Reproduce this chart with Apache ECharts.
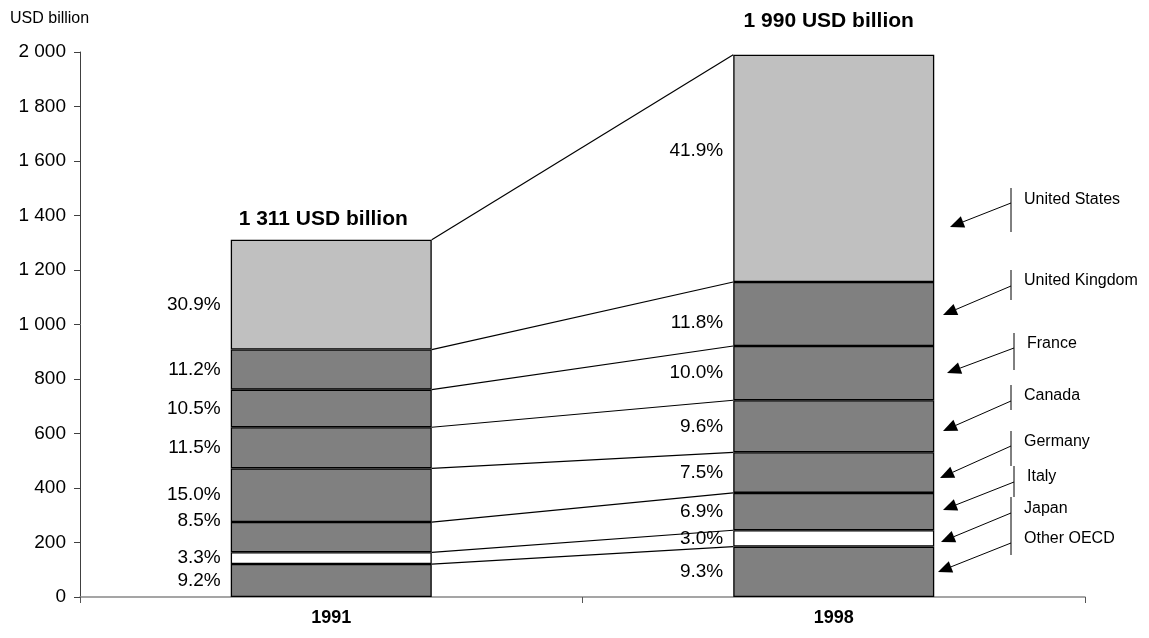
<!DOCTYPE html>
<html>
<head>
<meta charset="utf-8">
<script src="https://cdn.jsdelivr.net/npm/echarts@6/dist/echarts.min.js"></script>
<style>html,body{margin:0;padding:0;background:#fff;}#c{width:1149px;height:638px;}</style>
</head>
<body>
<div id="c"></div>
<script>
// ---- data ----
const categories = ['1991', '1998'];
const countries = ['Other OECD', 'Japan', 'Italy', 'Germany', 'Canada', 'France', 'United Kingdom', 'United States'];
const values1991 = [121, 43, 111, 197, 151, 138, 147, 403];
const values1998 = [185, 60, 137, 149, 191, 199, 235, 834];
const pct1991 = ['9.2%', '3.3%', '8.5%', '15.0%', '11.5%', '10.5%', '11.2%', '30.9%'];
const pct1998 = ['9.3%', '3.0%', '6.9%', '7.5%', '9.6%', '10.0%', '11.8%', '41.9%'];
const totals = [1311, 1990];
const unitLabel = 'USD billion';

// ---- styles / layout ----
const FONT = 'Liberation Sans, Arial, Helvetica, sans-serif';
const fillColors = {'Japan': '#ffffff', 'United States': '#c0c0c0'};
const defaultFill = '#808080';
const labelShift = [
  {'United States': 10, 'Italy': -16},
  {'United States': -18, 'United Kingdom': 9}
];
const totalLabelLayout = [{dy: 10, dx: -8}, {dy: 23, dx: -5}];
// callout annotation layout (pixels)
const callouts = [
  {name: 'United States', lx: 1011, top: 188, bottom: 232, ly: 200, sy: 203, tx: 950, ty: 227},
  {name: 'United Kingdom', lx: 1011, top: 270, bottom: 300, ly: 281, sy: 286, tx: 943, ty: 315},
  {name: 'France', lx: 1014, top: 333, bottom: 370, ly: 344, sy: 348, tx: 947, ty: 373},
  {name: 'Canada', lx: 1011, top: 385, bottom: 410, ly: 396, sy: 401, tx: 943, ty: 431},
  {name: 'Germany', lx: 1011, top: 431, bottom: 466, ly: 442, sy: 446, tx: 940, ty: 478},
  {name: 'Italy', lx: 1014, top: 466, bottom: 497, ly: 477, sy: 482, tx: 943, ty: 510},
  {name: 'Japan', lx: 1011, top: 497, bottom: 528, ly: 509, sy: 513, tx: 941, ty: 542},
  {name: 'Other OECD', lx: 1011, top: 528, bottom: 555, ly: 539, sy: 543, tx: 938, ty: 572}
];

const fmt = n => String(n).replace(/\B(?=(\d{3})+(?!\d))/g, ' ');

const pcts = [pct1991, pct1998];
const vals = [values1991, values1998];

const barSeries = countries.map((c, i) => ({
  type: 'bar',
  name: c,
  stack: 'total',
  barWidth: '40%',
  itemStyle: {color: fillColors[c] || defaultFill, borderColor: '#000', borderWidth: 1.3},
  label: {
    show: true, position: 'left', distance: 10,
    fontFamily: FONT, fontSize: 19, color: '#000',
    formatter: p => pcts[p.dataIndex][i]
  },
  data: vals.map((v, k) => ({value: v[i], label: {offset: [0, labelShift[k][c] || 0]}}))
}));

// cumulative tops for connecting lines
const cum = vals.map(v => { let s = 0; return v.map(x => (s += x)); });
const lineData = countries.map((c, i) => [0, cum[0][i], cum[1][i]]);

const lineSeries = {
  type: 'custom',
  name: 'connectors',
  data: lineData,
  z: 5,
  renderItem: (params, api) => {
    const p0 = api.coord([0, api.value(1)]);
    const p1 = api.coord([1, api.value(2)]);
    const half = api.size([1, 0])[0] * 0.2;
    return {
      type: 'line',
      shape: {x1: p0[0] + half, y1: p0[1], x2: p1[0] - half, y2: p1[1]},
      style: {stroke: '#000', lineWidth: 1.2}
    };
  }
};

const totalSeries = {
  type: 'custom',
  name: 'totals',
  data: totals.map((t, k) => [k, t]),
  z: 6,
  renderItem: (params, api) => {
    const k = params.dataIndex;
    const p = api.coord([api.value(0), api.value(1)]);
    return {
      type: 'text',
      x: p[0] + totalLabelLayout[k].dx,
      y: p[1] - totalLabelLayout[k].dy,
      style: {
        text: fmt(totals[k]) + ' ' + unitLabel,
        font: 'bold 21px ' + FONT,
        fill: '#000',
        align: 'center', verticalAlign: 'bottom'
      }
    };
  }
};

// callout graphics
const graphics = [];
callouts.forEach(o => {
  graphics.push({type: 'line', shape: {x1: o.lx, y1: o.top, x2: o.lx, y2: o.bottom}, style: {stroke: '#000', lineWidth: 1}});
  const dx = o.tx - o.lx, dy = o.ty - o.sy, L = Math.hypot(dx, dy);
  const ux = dx / L, uy = dy / L, px = -uy, py = ux;
  const hl = 14, hw = 6;
  const bx = o.tx - ux * hl, by = o.ty - uy * hl;
  graphics.push({type: 'line', shape: {x1: o.lx, y1: o.sy, x2: bx, y2: by}, style: {stroke: '#000', lineWidth: 1}});
  graphics.push({type: 'polygon', shape: {points: [[o.tx, o.ty], [bx + px * hw, by + py * hw], [bx - px * hw, by - py * hw]]}, style: {fill: '#000'}});
  graphics.push({type: 'text', x: o.lx + 13, y: o.ly, style: {text: o.name, font: '16px ' + FONT, fill: '#000', textVerticalAlign: 'middle', verticalAlign: 'middle'}});
});
graphics.push({type: 'text', x: 10, y: 19, style: {text: unitLabel, font: '16px ' + FONT, fill: '#000', verticalAlign: 'middle', textVerticalAlign: 'middle'}});

const chart = echarts.init(document.getElementById('c'), null, {renderer: 'canvas'});
chart.setOption({
  animation: false,
  backgroundColor: '#fff',
  grid: {left: 80, right: 64, top: 52, bottom: 41, containLabel: false},
  xAxis: {
    type: 'category',
    data: categories,
    axisLine: {show: true, lineStyle: {color: '#888', width: 1.5}},
    axisTick: {show: true, length: 6, lineStyle: {color: '#555'}},
    axisLabel: {fontFamily: FONT, fontSize: 18, fontWeight: 'bold', color: '#000', margin: 12}
  },
  yAxis: {
    type: 'value',
    min: 0, max: 2000, interval: 200,
    axisLine: {show: true, lineStyle: {color: '#404040', width: 1}},
    axisTick: {show: true, length: 6, lineStyle: {color: '#404040'}},
    splitLine: {show: false},
    axisLabel: {fontFamily: FONT, fontSize: 19, color: '#000', margin: 14, formatter: v => fmt(v)}
  },
  series: [...barSeries, lineSeries, totalSeries],
  graphic: graphics
});
</script>
</body>
</html>
